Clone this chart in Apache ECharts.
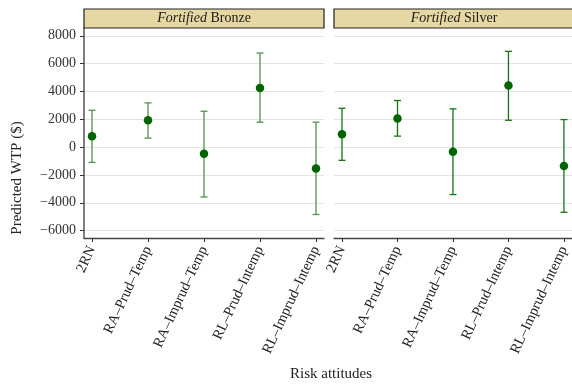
<!DOCTYPE html>
<html>
<head>
<meta charset="utf-8">
<script src="https://cdn.jsdelivr.net/npm/echarts@6/dist/echarts.min.js"></script>
<style>html,body{margin:0;padding:0;background:#fff}#c{width:572px;height:386px}</style>
</head>
<body>
<div id="c"></div>
<script>
const categories = ['2RN', 'RA–Prud–Temp', 'RA–Imprud–Temp', 'RL–Prud–Intemp', 'RL–Imprud–Intemp'];
const panels = ['Bronze', 'Silver'];
const bronzeMean = [790, 1930, -470, 4250, -1530];
const bronzeLow = [-1100, 650, -3580, 1790, -4840];
const bronzeHigh = [2650, 3180, 2580, 6760, 1790];
const silverMean = [930, 2060, -330, 4420, -1360];
const silverLow = [-950, 790, -3410, 1930, -4680];
const silverHigh = [2790, 3350, 2750, 6880, 1980];
const yTicks = [-6000, -4000, -2000, 0, 2000, 4000, 6000, 8000];

const FONT = 'Liberation Serif';
const Y_MIN = -6530, Y_MAX = 8560;
const chart = echarts.init(document.getElementById('c'));

const panelDefs = [
  {name: panels[0], mean: bronzeMean, low: bronzeLow, high: bronzeHigh, bgLeft: 84, barColor: '#4b944b'},
  {name: panels[1], mean: silverMean, low: silverLow, high: silverHigh, bgLeft: 334, barColor: '#137613'}
];

const grids = [], xAxes = [], yAxes = [], series = [], graphics = [];
panelDefs.forEach((p, i) => {
  const bg = grids.length;
  grids.push({left: p.bgLeft, width: 240, top: 28, bottom: 148});
  grids.push({left: p.bgLeft + 8, width: 224, top: 28, bottom: 148});
  // background axes
  xAxes.push({gridIndex: bg, type: 'value', min: 0, max: 1,
    axisLine: {show: true, onZero: false, lineStyle: {color: '#444', width: 1.3}},
    axisTick: {show: false}, axisLabel: {show: false}, splitLine: {show: false}});
  yAxes.push({gridIndex: bg, type: 'value', min: Y_MIN, max: Y_MAX,
    axisLine: {show: i === 0, onZero: false, lineStyle: {color: '#555', width: 1.5}},
    axisTick: {show: i === 0, length: 4, customValues: yTicks, lineStyle: {color: '#333'}},
    axisLabel: {show: i === 0, customValues: yTicks, fontFamily: FONT, fontSize: 14, color: '#333', margin: 8,
      formatter: v => String(v).replace('-', '\u2212')},
    splitLine: {show: true, lineStyle: {color: '#e4e4e4', width: 1}}});
  // foreground axes
  xAxes.push({gridIndex: bg + 1, type: 'category', data: categories, boundaryGap: false,
    axisLine: {show: false, onZero: false},
    axisTick: {show: true, length: 4, lineStyle: {color: '#333'}},
    axisLabel: {rotate: 65, fontFamily: FONT, fontSize: 14.5, color: '#222', margin: 9, interval: 0},
    splitLine: {show: false}});
  yAxes.push({gridIndex: bg + 1, type: 'value', min: Y_MIN, max: Y_MAX, show: false, splitLine: {show: false}});

  const errData = categories.map((c, k) => [k, p.low[k], p.high[k]]);
  series.push({
    type: 'custom', xAxisIndex: bg + 1, yAxisIndex: bg + 1, data: errData,
    renderItem: (params, api) => {
      const x = api.value(0);
      const lo = api.coord([x, api.value(1)]);
      const hi = api.coord([x, api.value(2)]);
      const w = 3.5;
      const st = {stroke: p.barColor, lineWidth: 1.3};
      return {type: 'group', children: [
        {type: 'line', shape: {x1: lo[0], y1: lo[1], x2: hi[0], y2: hi[1]}, style: st},
        {type: 'line', shape: {x1: lo[0] - w, y1: lo[1], x2: lo[0] + w, y2: lo[1]}, style: st},
        {type: 'line', shape: {x1: hi[0] - w, y1: hi[1], x2: hi[0] + w, y2: hi[1]}, style: st}
      ]};
    }
  });
  series.push({type: 'scatter', xAxisIndex: bg + 1, yAxisIndex: bg + 1,
    data: categories.map((c, k) => [k, p.mean[k]]),
    symbol: 'circle', symbolSize: 8.5, itemStyle: {color: '#006400', opacity: 1}, z: 5});

  graphics.push({type: 'rect', shape: {x: p.bgLeft, y: 9, width: 240, height: 19},
    style: {fill: '#E6D8A2', stroke: '#222', lineWidth: 1.2}, z: 10});
  graphics.push({type: 'text', x: p.bgLeft + 120, y: 18.5, z: 11,
    style: {text: '{i|Fortified} ' + p.name, align: 'center', verticalAlign: 'middle',
      fontFamily: FONT, fontSize: 14, fill: '#1a1a1a',
      rich: {i: {fontStyle: 'italic', fontFamily: FONT, fontSize: 14, fill: '#1a1a1a'}}}});
});

graphics.push({type: 'text', x: 17, y: 178, rotation: Math.PI / 2,
  style: {text: 'Predicted WTP ($)', align: 'center', verticalAlign: 'middle', fontFamily: FONT, fontSize: 15, fill: '#222'}});
graphics.push({type: 'text', x: 331, y: 374,
  style: {text: 'Risk attitudes', align: 'center', verticalAlign: 'middle', fontFamily: FONT, fontSize: 15, fill: '#222'}});

chart.setOption({
  animation: false,
  backgroundColor: '#fff',
  grid: grids, xAxis: xAxes, yAxis: yAxes, series: series, graphic: graphics
});
</script>
</body>
</html>
